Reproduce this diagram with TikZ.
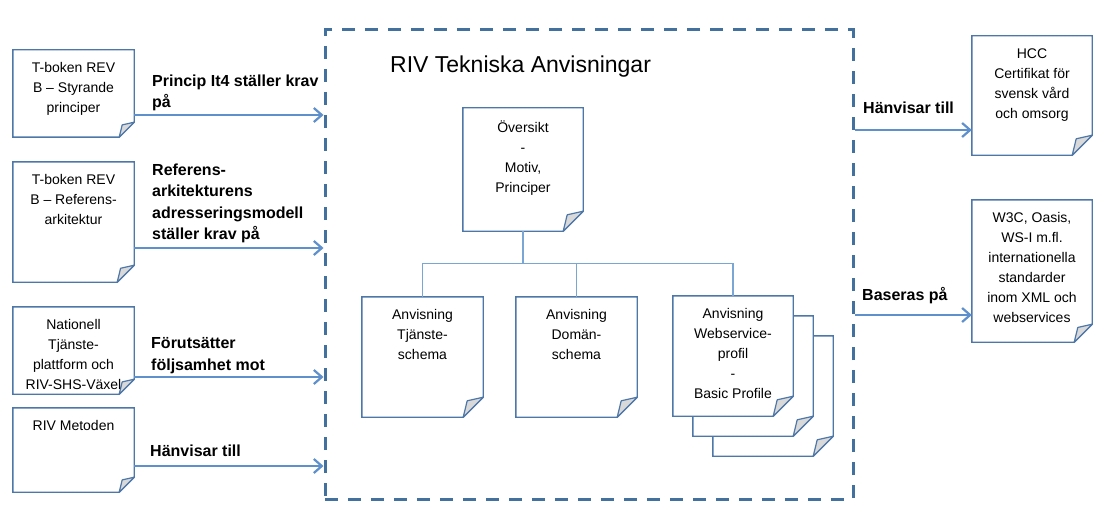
\documentclass[tikz,border=0pt]{standalone}
\usepackage{fontspec}
\setmainfont{Liberation Sans}
\usetikzlibrary{arrows.meta}
\definecolor{noteborder}{HTML}{4D77A8}
\definecolor{arrowblue}{HTML}{5E90CC}
\definecolor{dashblue}{HTML}{41719C}
\definecolor{treeblue}{HTML}{7AA6D6}
\definecolor{foldgray}{HTML}{D9D9D9}
\tikzset{
  noteshape/.style={rectangle, inner sep=0pt, draw=none},
  noteline/.style={draw=noteborder, line width=1.4pt, line join=miter},
  foldline/.style={draw=noteborder, line width=1.2pt, fill=foldgray, line join=round},
  boxtext/.style={font=\fontsize{14}{20}\selectfont, align=center, inner sep=0pt, anchor=north},
  lbl/.style={font=\fontsize{16}{21.5}\selectfont\bfseries, align=left, inner sep=0pt, anchor=north west},
  arr/.style={draw=arrowblue, line width=1.3pt, -{Straight Barb[length=8pt,width=14pt,line width=2.2pt]}},
  tree/.style={draw=treeblue, line width=1.4pt},
  frame/.style={draw=dashblue, line width=3pt, dash pattern=on 13pt off 10pt, inner sep=0pt}
}
% #1 name, #2 left, #3 top, #4 right, #5 bottom, #6 fold size, #7 text
\newcommand\notebox[7]{%
  \node[noteshape, minimum width={#4-#2}, minimum height={#5-#3}] (#1) at ({(#2+#4)/2},{(#3+#5)/2}) {};
  \draw[noteline, fill=white] (#1.north west) -- (#1.north east) -- ([yshift=#6pt]#1.south east)
     -- ([xshift=-#6pt]#1.south east) -- (#1.south west) -- cycle;
  \draw[foldline] ([yshift=#6pt]#1.south east) -- ([xshift={-0.8*#6}, yshift={0.82*#6}]#1.south east)
     -- ([xshift=-#6pt]#1.south east) -- cycle;
  \node[boxtext] (#1-t) at ([yshift=-12.5pt]#1.north) {#7};
}
\begin{document}
\begin{tikzpicture}[x=1pt, y=-1pt]
\useasboundingbox (0,0) rectangle (1108,508);
\fill[white] (0,0) rectangle (1108,508);

% frame
\node[frame, minimum width=528pt, minimum height=469pt] (frame) at (589,264.5) {};
\node[font=\fontsize{23}{27}\selectfont, anchor=base west, inner sep=0pt] (title) at (390,73) {RIV Tekniska Anvisningar};

% left notes
\notebox{l1}{13}{50}{134}{137}{15}{T-boken REV\\B – Styrande\\principer}
\notebox{l2}{13}{162}{134}{282}{17}{T-boken REV\\B – Referens-\\arkitektur}
\notebox{l3}{13}{307}{134}{394}{15}{Nationell\\Tjänste-\\plattform och\\RIV-SHS-Växel}
\notebox{l4}{13}{408}{134}{492}{15}{RIV Metoden}

% right notes
\notebox{r1}{972}{36}{1092}{155}{20}{HCC\\Certifikat för\\svensk vård\\och omsorg}
\notebox{r2}{972}{200}{1092}{342}{18}{W3C, Oasis,\\WS-I m.fl.\\internationella\\standarder\\inom XML och\\webservices}

% inner notes
\notebox{ov}{463}{108}{583}{231}{20}{Översikt\\-\\Motiv,\\Principer}
\notebox{a1}{362}{297}{483}{417}{20}{Anvisning\\Tjänste-\\schema}
\notebox{a2}{516}{297}{637}{417}{20}{Anvisning\\Domän-\\schema}
\notebox{a3c}{713}{336}{833}{456}{20}{}
\notebox{a3b}{693}{316}{813}{436}{20}{}
\notebox{a3}{673}{296}{793}{416}{20}{Anvisning\\Webservice-\\profil\\-\\Basic Profile}

% tree
\coordinate (j) at ([yshift=-32pt]ov.south);
\draw[tree] (ov.south) -- (j);
\draw[tree] (j) -| (a1.north);
\draw[tree] (j) -| (a2.north);
\draw[tree] (j) -| (a3.north);

% left arrows
\draw[arr] ([yshift=-21.5pt]l1.east) coordinate (s1) -- (s1 -| frame.west);
\draw[arr] ([yshift=-26pt]l2.east) coordinate (s2) -- (s2 -| frame.west);
\draw[arr] ([yshift=-26.5pt]l3.east) coordinate (s3) -- (s3 -| frame.west);
\draw[arr] ([yshift=-16pt]l4.east) coordinate (s4) -- (s4 -| frame.west);

% right arrows
\draw[arr] ([yshift=-34.5pt]r1.west -| frame.east) coordinate (e1) -- (e1 -| r1.west);
\draw[arr] ([yshift=-44pt]r2.west -| frame.east) coordinate (e2) -- (e2 -| r2.west);

% labels
\node[lbl] (t1) at (152,74.5) {Princip It4 ställer krav\\på};
\node[lbl] (t2) at (152,163.5) {Referens-\\arkitekturens\\adresseringsmodell\\ställer krav på};
\node[lbl] (t3) at (151,337.5) {Förutsätter\\följsamhet mot};
\node[lbl] (t4) at (150,444.5) {Hänvisar till};
\node[lbl] (t5) at (863,101.5) {Hänvisar till};
\node[lbl] (t6) at (862,287.5) {Baseras på};
\end{tikzpicture}
\end{document}
